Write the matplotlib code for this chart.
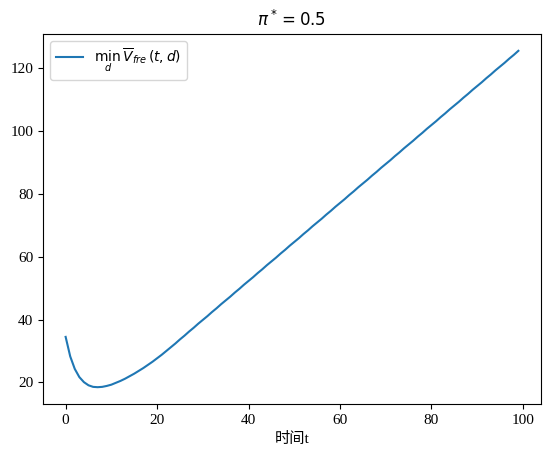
import numpy as np
import matplotlib
matplotlib.use('Agg')
import matplotlib.pyplot as plt

plt.rcParams['font.family'] = ['Liberation Serif', 'Noto Sans CJK SC']
plt.rcParams['mathtext.fontset'] = 'dejavusans'

# valores (t = 0..99)
t = np.arange(100)
v_min = [34.5, 28.3, 24.3, 21.7, 20.1, 19.1, 18.6, 18.5, 18.6, 18.9,
         19.3, 19.9, 20.5, 21.2, 22.0, 22.8, 23.7, 24.6, 25.6, 26.6,
         27.7, 28.8, 30.0, 31.2, 32.4, 33.7, 34.9, 36.2, 37.4, 38.7,
         39.9, 41.1, 42.4, 43.6, 44.9, 46.1, 47.3, 48.6, 49.8, 51.1,
         52.3, 53.5, 54.8, 56.0, 57.3, 58.5, 59.7, 61.0, 62.2, 63.5,
         64.7, 65.9, 67.2, 68.4, 69.7, 70.9, 72.1, 73.4, 74.6, 75.9,
         77.1, 78.3, 79.6, 80.8, 82.1, 83.3, 84.5, 85.8, 87.0, 88.3,
         89.5, 90.7, 92.0, 93.2, 94.5, 95.7, 96.9, 98.2, 99.4, 100.7,
         101.9, 103.1, 104.4, 105.6, 106.9, 108.1, 109.3, 110.6, 111.8, 113.1,
         114.3, 115.5, 116.8, 118.0, 119.3, 120.5, 121.7, 123.0, 124.2, 125.5]

fig = plt.figure(figsize=(5.48, 4.57), dpi=100)
ax = fig.add_axes([43/548, 53/457, 498/548, 370/457])
ax.plot(t, v_min, label=r'$\min_d\,\overline{V}_{fre}(t,d)$')
ax.set_title(r'$\pi^*=0.5$', fontsize=12)
ax.set_xlabel('时间t', fontsize=11)
ax.tick_params(labelsize=11)
ax.legend(loc='upper left', fontsize=10)
fig.savefig('out.png', dpi=100)
